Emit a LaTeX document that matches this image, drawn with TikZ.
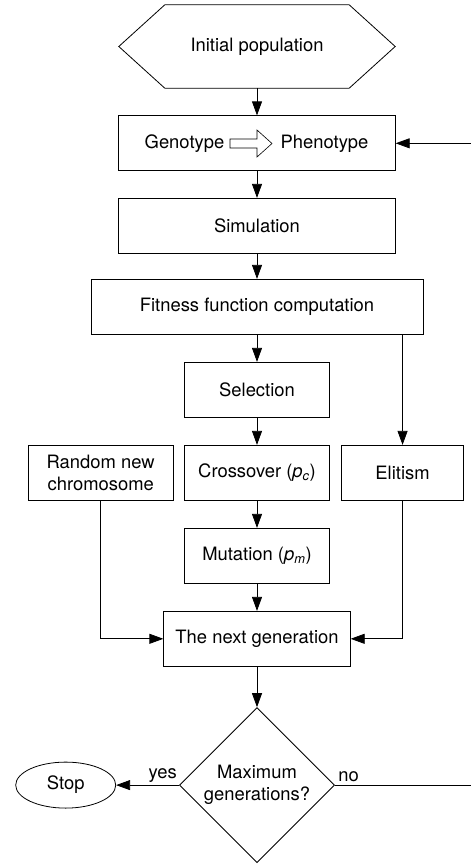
\documentclass[tikz,border=0pt]{standalone}
\usepackage{fontspec}
\setmainfont{TeX Gyre Heros}
\usetikzlibrary{arrows.meta}
\usetikzlibrary{positioning}
\usetikzlibrary{shapes.geometric}

\begin{document}
\begin{tikzpicture}[x=1pt,y=-1pt,node distance=27.2pt,
    every node/.style={font=\fontsize{18.4}{22}\selectfont},
    box/.style={draw,line width=0.8pt,minimum height=55pt,align=center,inner sep=2pt},
    arr/.style={-{Triangle[length=14pt,width=10pt]},line width=0.8pt}]
  \useasboundingbox (0,0) rectangle (471,865);

  % main column
  \node[minimum width=276pt,minimum height=83pt] (init) at (257,46.5) {Initial population};
  \node[box,minimum width=276.5pt,below=of init] (geno) {};
  \node[box,minimum width=277pt,below=26.7pt of geno] (sim) {Simulation};
  \node[box,minimum width=332pt,below=25.2pt of sim] (fit) {Fitness function computation};
  \node[box,minimum width=145pt,below=of fit] (sel) {Selection};
  \node[box,minimum width=145pt,below=of sel] (cross) {Crossover (\textit{p\textsubscript{c}})};
  \node[box,minimum width=145pt,left=10.5pt of cross] (rand) {Random new\\chromosome};
  \node[box,minimum width=121.5pt,right=11.5pt of cross] (elit) {Elitism};
  \node[box,minimum width=145pt,below=of cross] (mut) {Mutation (\textit{p\textsubscript{m}})};
  \node[box,minimum width=186.5pt,below=of mut] (next) {The next generation};
  \node[diamond,draw,line width=0.8pt,align=center,inner sep=0pt,
    minimum width=155pt,minimum height=155pt,below=40.5pt of next] (maxgen) {Maximum\\generations?};
  \node[ellipse,draw,line width=0.8pt,minimum width=100pt,minimum height=46pt,
    left=63pt of maxgen] (stop) {Stop};
  \path (maxgen.east) ++(142,0) coordinate (loop);

  % hexagon round the first node
  \draw[line width=0.8pt] (init.west) -- ([xshift=46pt]init.north west)
    -- ([xshift=-46pt]init.north east) -- (init.east)
    -- ([xshift=-46pt]init.south east) -- ([xshift=46pt]init.south west) -- cycle;

  % genotype => phenotype
  \node (gtxt) at (geno.center) [xshift=-72.5pt] {Genotype};
  \node (ptxt) at (geno.center) [xshift=67.5pt] {Phenotype};
  \draw[line width=0.6pt] (230,139) -- (257,139) -- (257,130) -- (272,143.5)
    -- (257,157) -- (257,148) -- (230,148) -- cycle;

  % connectors
  \draw[arr] (init) -- (geno);
  \draw[arr] (geno) -- (sim);
  \draw[arr] (sim) -- (fit);
  \draw[arr] (fit) -- (sel);
  \draw[arr] (sel) -- (cross);
  \draw[arr] (cross) -- (mut);
  \draw[arr] (mut) -- (next);
  \draw[arr] (next) -- (maxgen);
  \draw[arr] (elit.north |- fit.south) -- (elit.north);
  \draw[arr] (rand.south) |- (next.west);
  \draw[arr] (elit.south) |- (next.east);
  \draw[arr] (maxgen.west) -- node[pos=0,above left,inner sep=2pt] {yes} (stop.east);
  \draw[arr] (maxgen.east) -- node[pos=0,above right,inner sep=3pt] {no} (loop) |- (geno.east);
\end{tikzpicture}
\end{document}
